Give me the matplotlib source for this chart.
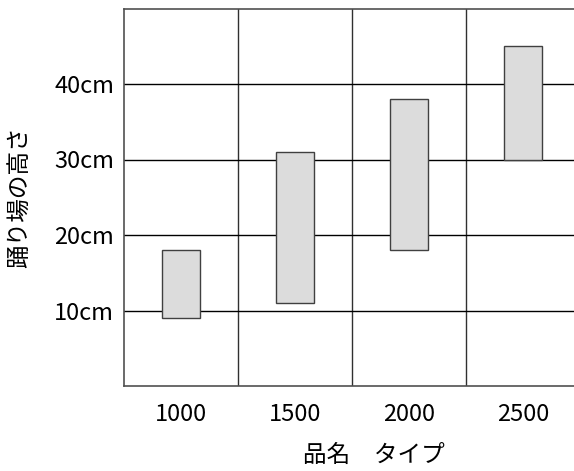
import matplotlib.pyplot as plt
import numpy as np

plt.rcParams['font.family'] = ['Noto Sans CJK JP', 'DejaVu Sans']

# data
types = ['1000', '1500', '2000', '2500']
low = [9, 11, 18, 30]
high = [18, 31, 38, 45]
yticks = [10, 20, 30, 40]
ytick_labels = ['10cm', '20cm', '30cm', '40cm']

fig = plt.figure(figsize=(5.74, 4.71), dpi=100)
ax = fig.add_axes([124 / 574, 85 / 471, 456 / 574, 377.5 / 471])

x = np.arange(len(types))
heights = np.array(high) - np.array(low)
ax.bar(x, heights, bottom=low, width=1 / 3, color='#dcdcdc',
       edgecolor='#404040', linewidth=1, zorder=3)

ax.set_xlim(-0.5, len(types) - 0.5)
ax.set_ylim(0, 50)
ax.set_xticks(x)
ax.set_xticklabels(types, fontsize=17)
ax.set_yticks(yticks)
ax.set_yticklabels(ytick_labels, fontsize=17)
ax.set_xticks(x[:-1] + 0.5, minor=True)
ax.tick_params(which='both', length=0)
ax.tick_params(axis='x', pad=12)
ax.tick_params(axis='y', pad=7)

ax.grid(axis='y', which='major', color='black', linewidth=1, zorder=1)
ax.grid(axis='x', which='minor', color='#303030', linewidth=1, zorder=1)
ax.grid(axis='x', which='major', visible=False)

for s in ['left', 'bottom', 'top']:
    ax.spines[s].set_color('#505050')
    ax.spines[s].set_linewidth(1.2)
ax.spines['right'].set_visible(False)

ax.set_xlabel('品名　タイプ', fontsize=17, va='center')
ax.xaxis.set_label_coords((374 - 124) / 456, -(455 - 386) / 377.5)
ax.set_ylabel('踊り場の高さ', fontsize=17, va='center')
ax.yaxis.set_label_coords(-(124 - 21) / 456, 0.5)

fig.savefig('out.png', dpi=100)
